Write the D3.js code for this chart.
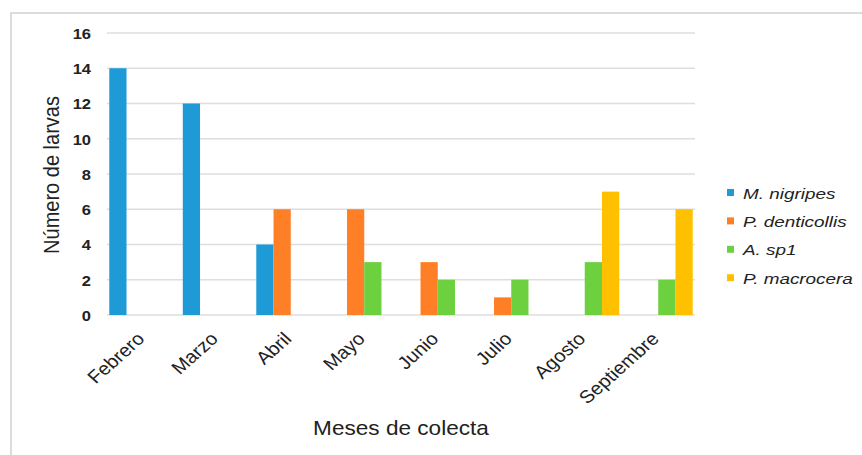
<!DOCTYPE html>
<html><head><meta charset="utf-8">
<script src="https://cdn.jsdelivr.net/npm/d3@7"></script>
<style>body{margin:0;background:#fff}svg{display:block}</style>
</head><body><svg id="c" width="862" height="455"></svg>
<script>
const months = ["Febrero","Marzo","Abril","Mayo","Junio","Julio","Agosto","Septiembre"];
const seriesNames = ["M. nigripes","P. denticollis","A. sp1","P. macrocera"];
const mNigripes = [14,12,4,0,0,0,0,0];
const pDenticollis = [0,0,6,6,3,1,0,0];
const aSp1 = [0,0,0,3,2,2,3,2];
const pMacrocera = [0,0,0,0,0,0,7,6];
const colors = ["#1e9bd7","#ff7f27","#6dd03f","#ffc000"];
const yTicks = [0,2,4,6,8,10,12,14,16];
const seriesValues = [mNigripes,pDenticollis,aSp1,pMacrocera];

(function(){
const FONT = "Liberation Sans, Arial, sans-serif";
const svg = d3.select("#c");
svg.append("rect").attr("x",11).attr("y",13).attr("width",900).attr("height",500)
  .attr("fill","none").attr("stroke","#dcdcdc").attr("stroke-width",2);

const pL=107, pR=695, pT=33, pB=315;
const x = d3.scaleBand().domain(months).range([pL,pR]).paddingInner(0).paddingOuter(0);
const inner = d3.scaleBand().domain(d3.range(4)).range([0,x.bandwidth()]).paddingInner(0).paddingOuter(0.1327);
const y = d3.scaleLinear().domain([0,16]).range([pB,pT]);

svg.append("g").selectAll("line").data(yTicks).join("line")
  .attr("x1",pL).attr("x2",pR).attr("y1",d=>y(d)).attr("y2",d=>y(d))
  .attr("stroke","#dedede").attr("stroke-width",1.6);

const ya = svg.append("g").attr("transform",`translate(${pL},0)`)
  .call(d3.axisLeft(y).tickValues(yTicks).tickSize(0).tickPadding(0));
ya.select(".domain").remove();
ya.selectAll("text").attr("font-family",FONT)
  .attr("font-size",15).attr("font-weight","bold").attr("fill","#222")
  .attr("x",0).attr("dy","0.36em")
  .attr("transform","translate(-16,0) scale(1.1,1)");

const data = [];
months.forEach((m,i)=>seriesValues.forEach((s,j)=>{ if(s[i]>0) data.push({m,j,v:s[i]}); }));
svg.append("g").selectAll("rect").data(data).join("rect")
  .attr("x",d=>x(d.m)+inner(d.j)).attr("width",inner.bandwidth())
  .attr("y",d=>y(d.v)).attr("height",d=>y(0)-y(d.v)).attr("fill",d=>colors[d.j]);

const xa = svg.append("g").attr("transform",`translate(0,${pB})`)
  .call(d3.axisBottom(x).tickSize(0).tickPadding(0));
xa.select(".domain").remove();
xa.selectAll("text").attr("font-family",FONT)
  .attr("font-size",18).attr("fill","#222")
  .attr("text-anchor","end").attr("dy",0).attr("y",0)
  .attr("transform","translate(2,25) scale(1.12,1) rotate(-45)");

svg.append("text").attr("transform","translate(401,435) scale(1.13,1)").attr("text-anchor","middle")
  .attr("font-family",FONT).attr("font-size",20).attr("fill","#222")
  .text("Meses de colecta");
svg.append("text").attr("transform","translate(59,175) scale(1.1,1) rotate(-90)").attr("text-anchor","middle")
  .attr("font-family",FONT).attr("font-size",20).attr("fill","#222")
  .text("Número de larvas");

const lg = svg.append("g").selectAll("g").data(seriesNames).join("g")
  .attr("transform",(d,i)=>`translate(727,${192.5+i*28.4})`);
lg.append("rect").attr("x",0).attr("y",-3.5).attr("width",7).attr("height",7).attr("fill",(d,i)=>colors[i]);
lg.append("text").attr("transform","translate(16,6) scale(1.26,1)").attr("font-family",FONT)
  .attr("font-size",15).attr("font-style","italic").attr("fill","#222").text(d=>d);
})();
</script></body></html>
